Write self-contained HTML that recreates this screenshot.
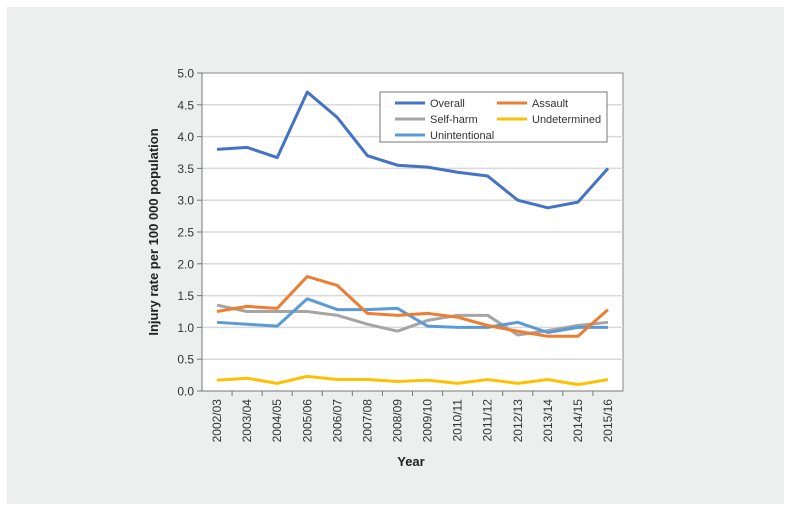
<!DOCTYPE html>
<html><head><meta charset="utf-8"><style>
body{margin:0;background:#fff;font-family:"Liberation Sans",sans-serif}
</style></head><body>
<svg id="c" width="791" height="511" xmlns="http://www.w3.org/2000/svg">
<rect x="7" y="7" width="777" height="497" fill="#edeeee"/>
<rect x="202" y="73" width="421" height="318" fill="#fff" stroke="#888" stroke-width="1"/>
<g id="grid"></g><g id="axes"></g><g id="series"></g>
<text x="158" y="232" transform="rotate(-90 158 232)" text-anchor="middle" font-size="13" font-weight="bold" fill="#222">Injury rate per 100 000 population</text>
<text x="411" y="466" text-anchor="middle" font-size="13" font-weight="bold" fill="#222">Year</text>
<g>
<rect x="380" y="92" width="227" height="50" fill="#fff" stroke="#777" stroke-width="1"/>
<g id="legend"></g>
</g>
</svg>
<script>
const categories=["2002/03","2003/04","2004/05","2005/06","2006/07","2007/08","2008/09","2009/10","2010/11","2011/12","2012/13","2013/14","2014/15","2015/16"];
const overall=[3.8,3.83,3.67,4.7,4.3,3.7,3.55,3.52,3.44,3.38,3.0,2.88,2.97,3.5];
const assault=[1.25,1.33,1.3,1.8,1.66,1.22,1.19,1.22,1.16,1.03,0.94,0.86,0.86,1.28];
const selfHarm=[1.35,1.25,1.25,1.25,1.19,1.05,0.94,1.11,1.19,1.19,0.88,0.95,1.03,1.08];
const unintentional=[1.08,1.05,1.02,1.45,1.28,1.28,1.3,1.02,1.0,1.0,1.08,0.92,1.0,1.0];
const undetermined=[0.17,0.2,0.12,0.23,0.18,0.18,0.15,0.17,0.12,0.18,0.12,0.18,0.1,0.18];
const yTicks=["0.0","0.5","1.0","1.5","2.0","2.5","3.0","3.5","4.0","4.5","5.0"];
const NS="http://www.w3.org/2000/svg";
const L=202,R=623,T=73,B=391;
const step=(R-L)/categories.length;
const xS=i=>L+step*(i+0.5);
const yS=v=>B-(v/5)*(B-T);
function mk(t,a,p){const e=document.createElementNS(NS,t);for(const k in a)e.setAttribute(k,a[k]);p.appendChild(e);return e;}
const grid=document.getElementById('grid'),axes=document.getElementById('axes');
yTicks.forEach(t=>{const y=yS(parseFloat(t));
 if(parseFloat(t)>0&&parseFloat(t)<5){const g=mk('line',{x1:L,x2:R,y1:y,y2:y,stroke:'#d9d9d9','stroke-width':1.5},grid);
 
 }
 mk('line',{x1:L-5,x2:L,y1:y,y2:y,stroke:'#777'},axes);
 const tx=mk('text',{x:L-8,y:y+4.5,'text-anchor':'end','font-size':12,fill:'#333'},axes);tx.textContent=t;
 
 
});
categories.forEach((c,i)=>{const x=L+step*i;
 if(i>0)mk('line',{x1:x,x2:x,y1:B,y2:B+5,stroke:'#777'},axes);
 const cx=xS(i);
 const tx=mk('text',{x:cx+4,y:B+8,'text-anchor':'end','font-size':12,fill:'#333',transform:`rotate(-90 ${cx+4} ${B+8})`},axes);tx.textContent=c;
 
 
});
mk('line',{x1:L,x2:L,y1:T,y2:B,stroke:'#777'},axes);
mk('line',{x1:L,x2:R,y1:B,y2:B,stroke:'#777'},axes);
const ser=[["overall",overall,"#4472C4"],["self-harm",selfHarm,"#A5A5A5"],["unintentional",unintentional,"#5B9BD5"],["assault",assault,"#ED7D31"],["undetermined",undetermined,"#FFC000"]];
const sg=document.getElementById('series');
ser.forEach(([n,d,col])=>{const p=mk('polyline',{points:d.map((v,i)=>xS(i)+','+yS(v)).join(' '),fill:'none',stroke:col,'stroke-width':3,'stroke-linejoin':'round'},sg);
 
 });
const leg=[["Overall","#4472C4",395,103],["Assault","#ED7D31",497,103],["Self-harm","#A5A5A5",395,119],["Undetermined","#FFC000",497,119],["Unintentional","#5B9BD5",395,135]];
const lg=document.getElementById('legend');
leg.forEach(([t,col,x,y])=>{mk('line',{x1:x,x2:x+30,y1:y,y2:y,stroke:col,'stroke-width':3},lg);
 const tx=mk('text',{x:x+35,y:y+4,'font-size':11,fill:'#333'},lg);tx.textContent=t;
 
 });
</script>
</body></html>
